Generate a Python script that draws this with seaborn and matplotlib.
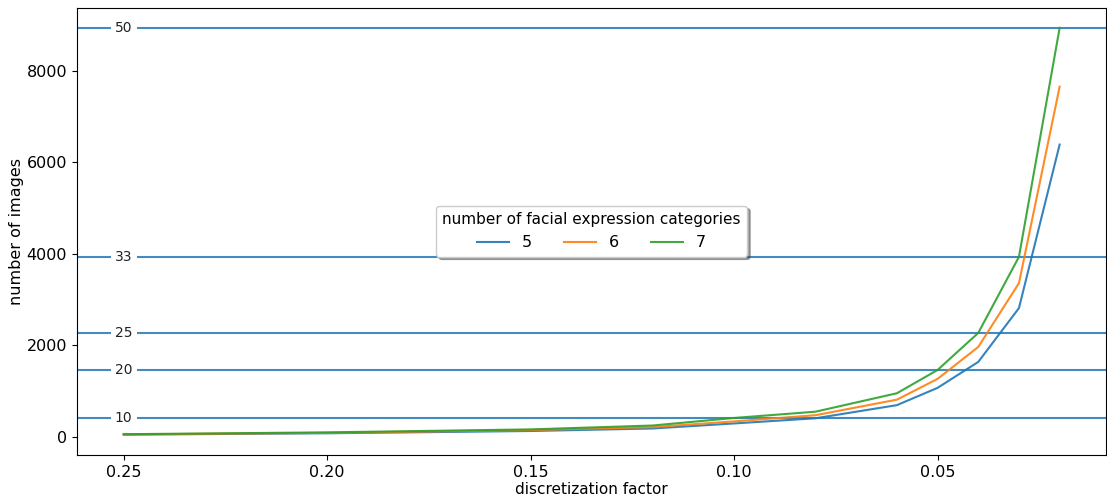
import matplotlib
matplotlib.use("Agg")
import matplotlib.pyplot as plt
import seaborn as sns
import pandas as pd

factors = [0.25, 0.2, 0.15, 0.12, 0.1, 0.08, 0.06, 0.05, 0.04, 0.03, 0.02]
images_5 = [45, 75, 125, 180, 290, 403, 690, 1068, 1635, 2812, 6386]
images_6 = [50, 85, 145, 210, 335, 470, 810, 1264, 1962, 3357, 7650]
images_7 = [55, 95, 160, 245, 410, 547, 950, 1459, 2269, 3932, 8937]
categories = [5, 6, 7]
marked_factors = [0.1, 0.05, 0.04, 0.03, 0.02]

rows = []
for cat, vals in zip(categories, [images_5, images_6, images_7]):
    for f, v in zip(factors, vals):
        rows.append({"discretization factor": f, "number of images": v,
                     "number of facial expression categories": cat})
df = pd.DataFrame(rows)

fig, ax = plt.subplots(figsize=(11.07, 5.0), dpi=100)
fig.subplots_adjust(left=0.0695, right=0.9995, top=0.985, bottom=0.09)

sns.lineplot(data=df, x="discretization factor", y="number of images",
             hue="number of facial expression categories",
             palette=["#1f77b4", "#ff7f0e", "#2ca02c"], ax=ax, linewidth=1.5,
             alpha=0.9)

green = dict(zip(factors, images_7))
for f in marked_factors:
    yv = green[f]
    ax.axhline(yv, color="#1f77b4", linewidth=1.5, alpha=0.85, zorder=1)
    ax.text(0.25, yv, str(int(round(1 / f))), ha="center", va="center",
            fontsize=10, color="#222222", zorder=3,
            bbox=dict(boxstyle="square,pad=0.3", facecolor="white", edgecolor="none"))

ax.invert_xaxis()
ax.set_xticks([0.25, 0.20, 0.15, 0.10, 0.05])
ax.set_xticklabels(["0.25", "0.20", "0.15", "0.10", "0.05"])
ax.set_yticks([0, 2000, 4000, 6000, 8000])
ax.tick_params(labelsize=11.5)
ax.set_xlabel("discretization factor", fontsize=11, labelpad=2)
ax.set_ylabel("number of images", fontsize=11.5, labelpad=2)

ax.legend(title="number of facial expression categories", loc="center", ncol=3,
          shadow=True, fancybox=True, fontsize=11.5, title_fontsize=11,
          framealpha=1)

fig.savefig("out.png", dpi=100)
